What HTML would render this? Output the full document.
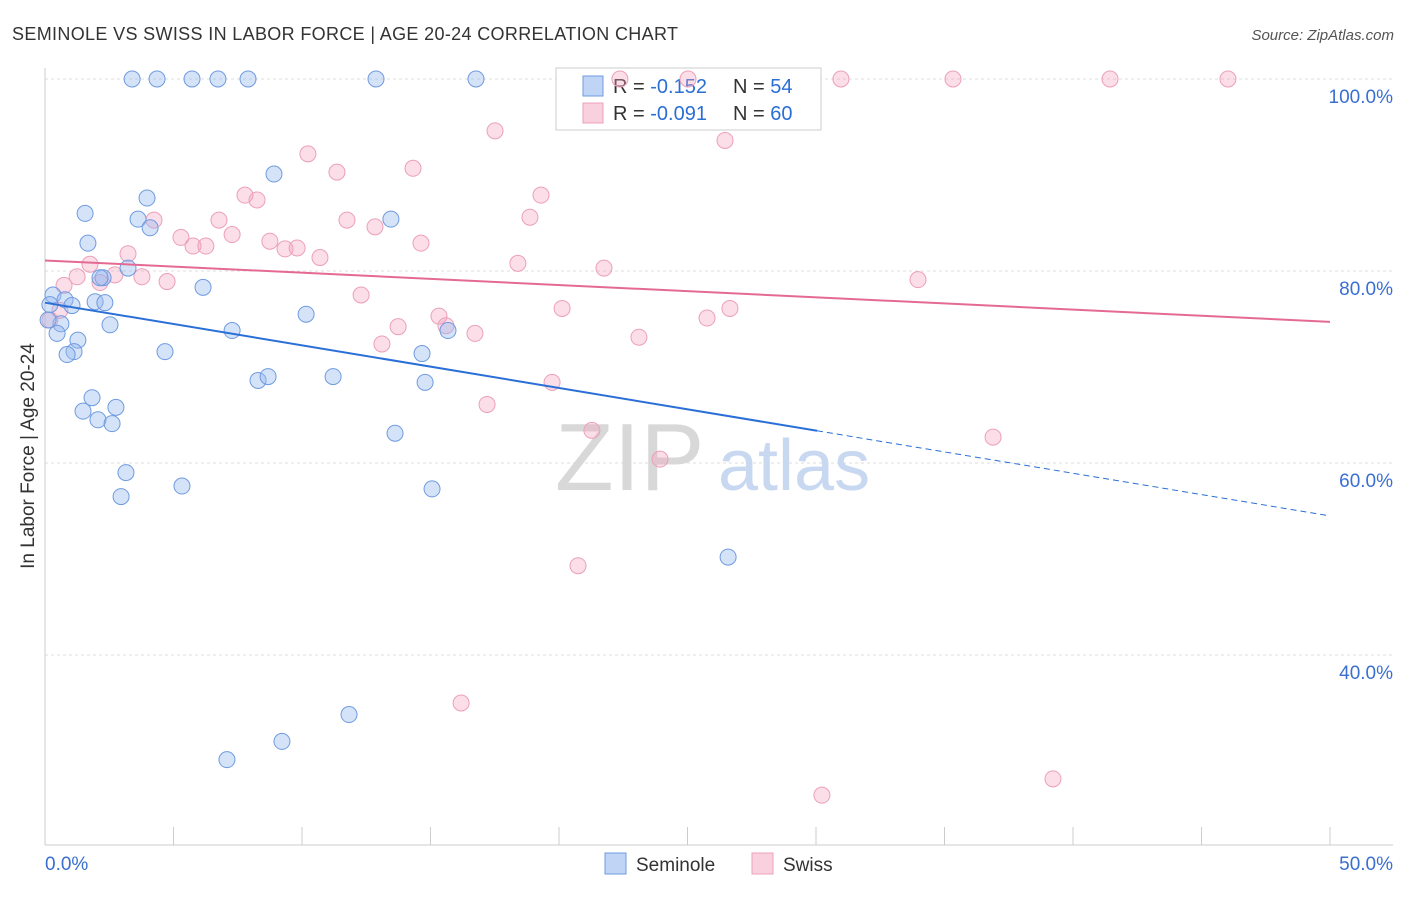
<!DOCTYPE html>
<html><head><meta charset="utf-8"><style>
body{margin:0;background:#fff;font-family:"Liberation Sans",sans-serif}
svg text{font-family:"Liberation Sans",sans-serif}
</style></head><body>
<svg id="c" width="1406" height="892"></svg>
<script>
const blueX=[3.39,4.36,5.72,6.73,7.90,12.88,16.77,8.91,3.97,1.56,3.62,4.09,13.46,1.67,3.23,2.26,0.31,0.19,0.78,1.05,1.95,2.33,6.15,10.16,0.62,2.53,0.47,7.28,15.68,1.28,1.13,0.86,4.67,14.67,8.29,8.68,11.21,14.79,1.83,1.48,2.76,2.06,2.61,13.62,3.15,5.33,15.06,2.96,26.58,11.83,9.22,7.08,0.12,2.14];
const blueY=[100,100,100,100,100,100,100,90.1,87.6,86.0,85.4,84.5,85.4,82.9,80.3,79.3,77.5,76.5,77.0,76.4,76.8,76.7,78.3,75.5,74.5,74.4,73.5,73.8,73.8,72.8,71.6,71.3,71.6,71.4,68.6,69.0,69.0,68.4,66.8,65.4,65.8,64.5,64.1,63.1,59.0,57.6,57.3,56.5,50.2,33.8,31.0,29.1,74.9,79.3];
const pinkX=[22.37,25.02,30.97,35.33,41.44,46.03,17.51,26.46,10.23,11.36,14.32,19.30,7.78,8.25,4.24,6.77,11.75,18.87,12.84,7.28,5.29,5.76,6.26,8.75,9.34,9.81,14.63,3.23,1.75,10.70,18.40,21.75,1.25,3.77,2.72,4.75,0.74,2.14,12.30,33.97,20.12,26.65,25.76,15.33,15.60,13.74,16.73,23.11,13.11,0.58,0.19,19.73,17.20,21.28,36.89,23.93,20.74,16.19,39.22,30.23];
const pinkY=[100,100,100,100,100,100,94.6,93.6,92.2,90.3,90.7,87.9,87.9,87.4,85.3,85.3,85.3,85.6,84.6,83.8,83.5,82.6,82.6,83.1,82.3,82.4,82.9,81.8,80.7,81.4,80.8,80.3,79.4,79.4,79.6,78.9,78.5,78.8,77.5,79.1,76.1,76.1,75.1,75.3,74.3,74.2,73.5,73.1,72.4,75.9,74.9,68.4,66.1,63.4,62.7,60.4,49.3,35.0,27.1,25.4];
const blueTrend=[76.7,-0.4442], pinkTrend=[81.1,-0.128];
const yTicks=[100,80,60,40];
const X=v=>45+v*25.7, Y=v=>79+(100-v)*9.6;
const svg=document.getElementById('c'), NS='http://www.w3.org/2000/svg';
function el(t,a,p){const e=document.createElementNS(NS,t);for(const k in a)e.setAttribute(k,a[k]);(p||svg).appendChild(e);return e;}
function txt(s,a){const e=el('text',a);e.textContent=s;return e;}
yTicks.forEach(v=>{const g=el('line',{x1:45,x2:1393,y1:Y(v),y2:Y(v),stroke:'#dcdcdc','stroke-dasharray':'3,3'});

const t=txt(v.toFixed(1)+'%',{x:1393,y:Y(v)+24,'text-anchor':'end','font-size':19,fill:'#3a6fd0'});
});
el('line',{x1:45,x2:45,y1:68,y2:845,stroke:'#ccc'});
el('line',{x1:45,x2:1393,y1:845,y2:845,stroke:'#ccc'});
for(let i=0;i<=10;i++){el('line',{x1:X(i*5),x2:X(i*5),y1:827,y2:845,stroke:'#ccc'});}
let t=txt('0.0%',{x:45,y:870,'font-size':19,fill:'#3a6fd0'});
t=txt('50.0%',{x:1393,y:870,'text-anchor':'end','font-size':19,fill:'#3a6fd0'});
t=txt('In Labor Force | Age 20-24',{transform:'translate(34,456) rotate(-90)','text-anchor':'middle','font-size':19,fill:'#333'});
t=txt('SEMINOLE VS SWISS IN LABOR FORCE | AGE 20-24 CORRELATION CHART',{x:12,y:40,'font-size':18,fill:'#333',textLength:666,lengthAdjust:'spacing'});
t=txt('Source: ZipAtlas.com',{x:1394,y:40,'text-anchor':'end','font-size':15,fill:'#555','font-style':'italic'});
t=txt('ZIP',{x:555,y:490,'font-size':96,fill:'#d8d8d8','font-family':'Liberation Serif'});
t=txt('atlas',{x:718,y:490,'font-size':72,fill:'#c8d8f0'});
const lg=el('rect',{x:556,y:68,width:265,height:62,fill:'#fff',stroke:'#ccc'});
[[0,'-0.152','54','rgba(150,185,240,0.6)','#6f9be0'],[1,'-0.091','60','rgba(244,170,195,0.55)','#eca0b8']].forEach(r=>{
const y=86+r[0]*27;el('rect',{x:583,y:y-10,width:20,height:20,fill:r[3],stroke:r[4]});
const a=el('text',{x:613,y:y+7,'font-size':20,fill:'#333'});a.innerHTML='R = <tspan fill="#2a6fd6">'+r[1]+'</tspan>';
const b=el('text',{x:733,y:y+7,'font-size':20,fill:'#333'});b.innerHTML='N = <tspan fill="#2a6fd6">'+r[2]+'</tspan>';});
pinkX.forEach((x,i)=>{const c=el('circle',{cx:X(x),cy:Y(pinkY[i]),r:8,fill:'rgba(244,160,188,0.35)',stroke:'#eca0b8','stroke-width':1});
});
blueX.forEach((x,i)=>{const c=el('circle',{cx:X(x),cy:Y(blueY[i]),r:8,fill:'rgba(150,185,240,0.4)',stroke:'#6f9be0','stroke-width':1});
});
let l=el('line',{x1:X(0),y1:Y(blueTrend[0]),x2:X(30.04),y2:Y(blueTrend[0]+blueTrend[1]*30.04),stroke:'#2a6fd6','stroke-width':2});

l=el('line',{x1:X(30.04),y1:Y(blueTrend[0]+blueTrend[1]*30.04),x2:X(50),y2:Y(blueTrend[0]+blueTrend[1]*50),stroke:'#2a6fd6','stroke-width':1,'stroke-dasharray':'6,4'});

l=el('line',{x1:X(0),y1:Y(pinkTrend[0]),x2:X(50),y2:Y(pinkTrend[0]+pinkTrend[1]*50),stroke:'#e46a94','stroke-width':2});

[[605,'Seminole','rgba(150,185,240,0.6)','#6f9be0'],[752,'Swiss','rgba(244,170,195,0.55)','#eca0b8']].forEach(r=>{
const s=el('rect',{x:r[0],y:853,width:21,height:21,fill:r[2],stroke:r[3]});
const q=txt(r[1],{x:r[0]+31,y:871,'font-size':19,fill:'#333'});});
</script>
</body></html>
